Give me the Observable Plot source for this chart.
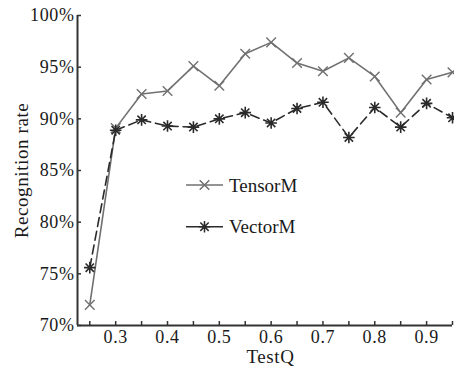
<!DOCTYPE html>
<html><head><meta charset="utf-8">
<script src="https://cdn.jsdelivr.net/npm/d3@7"></script>
<script src="https://cdn.jsdelivr.net/npm/@observablehq/plot@0.6"></script>
<style>body{margin:0;background:#fff}#chart{position:relative;width:454px;height:374px}</style>
</head><body><div id="chart"></div>
<script>
// ---- data ----
const testQ   = [0.25,0.30,0.35,0.40,0.45,0.50,0.55,0.60,0.65,0.70,0.75,0.80,0.85,0.90,0.95];
const tensorM = [72.0,89.1,92.4,92.7,95.1,93.2,96.3,97.4,95.4,94.6,95.9,94.1,90.6,93.8,94.5];
const vectorM = [75.6,88.9,89.9,89.3,89.2,90.0,90.6,89.6,91.0,91.6,88.2,91.1,89.2,91.5,90.1];
const seriesNames = ["TensorM","VectorM"];
const xTicks  = [0.25,0.30,0.35,0.40,0.45,0.50,0.55,0.60,0.65,0.70,0.75,0.80,0.85,0.90,0.95];
const xLabels = [0.3,0.4,0.5,0.6,0.7,0.8,0.9];
const yTicks  = [70,75,80,85,90,95,100];
const xTitle = "TestQ";
const yTitle = "Recognition rate";

const rows = testQ.map((q,i)=>({q, tensor:tensorM[i], vector:vectorM[i]}));

const cTensor = "#707070", cVector = "#2a2a2a", cAxis = "#333";

const timesSym = {draw(ctx,size){const r=Math.sqrt(size/Math.PI);ctx.moveTo(-r,-r);ctx.lineTo(r,r);ctx.moveTo(-r,r);ctx.lineTo(r,-r);}};
const starSym = {draw(ctx,size){const r=Math.sqrt(size/Math.PI),d=r*0.72;ctx.moveTo(-r,0);ctx.lineTo(r,0);ctx.moveTo(0,-r);ctx.lineTo(0,r);ctx.moveTo(-d,-d);ctx.lineTo(d,d);ctx.moveTo(-d,d);ctx.lineTo(d,-d);}};

const plot = Plot.plot({
  width:454, height:374,
  marginLeft:77, marginRight:2, marginTop:15, marginBottom:49,
  x:{domain:[0.2263,0.95]},
  y:{domain:[70,100]},
  style:{fontFamily:"'Liberation Serif', serif", fontSize:"18px", color:"#1a1a1a", background:"#fff", overflow:"visible"},
  marks:[
    Plot.line(rows,{x:"q", y:"tensor", stroke:cTensor, strokeWidth:1.6}),
    Plot.line(rows,{x:"q", y:"vector", stroke:cVector, strokeWidth:1.6, strokeDasharray:"9,5"}),
    Plot.dot(rows,{x:"q", y:"tensor", symbol:timesSym, r:4.8, stroke:cTensor, fill:"none", strokeWidth:1.4}),
    Plot.dot(rows,{x:"q", y:"vector", symbol:starSym, r:5.8, stroke:cVector, fill:"none", strokeWidth:1.6}),
    Plot.axisX({ticks:xTicks, tickSize:-4, tickFormat:()=>"", label:null, stroke:cAxis, strokeWidth:1.5}),
    Plot.axisX({ticks:xLabels, tickSize:0, tickPadding:5, tickFormat:d=>d.toFixed(1), label:null, fontSize:18}),
    Plot.axisY({ticks:yTicks, tickSize:-4, tickFormat:()=>"", label:null, stroke:cAxis, strokeWidth:1.5}),
    Plot.axisY({ticks:yTicks, tickSize:0, tickPadding:3, tickFormat:d=>d+"%", label:null, fontSize:18}),
    Plot.ruleY([yTicks[0]],{stroke:cAxis, strokeWidth:2}),
    Plot.ruleX([0.2263],{stroke:cAxis, strokeWidth:2}),
    Plot.text([yTitle],{text:d=>d, frameAnchor:"left", dx:-56, rotate:-90, fontSize:19, textAnchor:"middle"}),
    Plot.text([xTitle],{text:d=>d, frameAnchor:"bottom", dx:5.5, dy:23.5, lineAnchor:"top", fontSize:19})
  ]
});
d3.select(plot).selectAll("text").style("letter-spacing","0.6px");
document.getElementById("chart").appendChild(plot);

// legend
const svg = d3.select(plot);
const lg = svg.append("g").attr("font-family","'Liberation Serif', serif").attr("font-size",19).attr("text-anchor","start");
const items = [{name:seriesNames[0], c:cTensor, sym:timesSym, r:4.8},{name:seriesNames[1], c:cVector, sym:starSym, r:5.8}];
items.forEach((it,i)=>{
  const y = 185 + i*41.7;
  lg.append("line").attr("x1",186).attr("x2",223).attr("y1",y).attr("y2",y).attr("stroke",it.c).attr("stroke-width",1.6);
  lg.append("path").attr("d",d3.symbol(it.sym, Math.PI*it.r*it.r)()).attr("transform",`translate(204.5,${y})`).attr("stroke",it.c).attr("fill","none").attr("stroke-width",1.5);
  lg.append("text").attr("x",229).attr("y",y+6.5).attr("fill","#1a1a1a").attr("text-anchor","start").text(it.name);
});
</script></body></html>
